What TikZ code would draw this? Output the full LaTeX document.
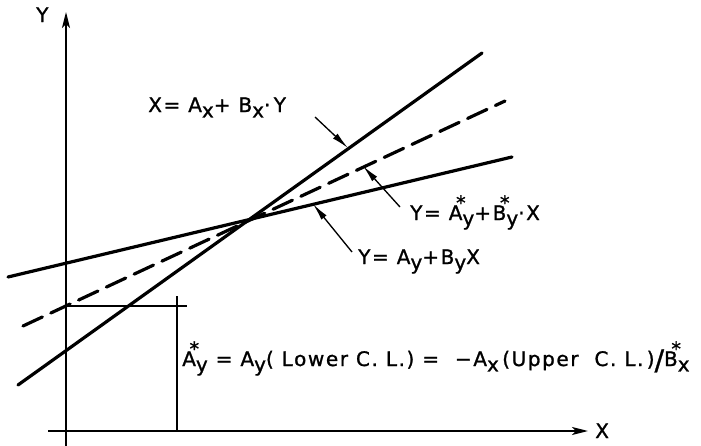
\documentclass[tikz,border=0pt]{standalone}
\usepackage{fontspec}
\usepackage{graphicx}
\newfontfamily\lettering[LetterSpace=8, FakeBold=1.2]{DejaVu Sans}
\usetikzlibrary{arrows.meta}

% lowered index and starred symbol, as in the hand lettering
\newcommand{\lo}[1]{\raisebox{-0.5ex}{#1}}
\newcommand{\starred}[2]{#1\rlap{\kern-0.32em\raisebox{0.95ex}{\Large *}}\lo{#2}}

\begin{document}
\begin{tikzpicture}[
      x=0.75pt, y=-0.75pt,
      font=\lettering\fontsize{15}{17}\selectfont,
      axis/.style={line width=1.2pt, -{Stealth[length=12pt, width=6pt, inset=3pt]}},
      fitline/.style={line width=2.4pt, line cap=round},
      dashline/.style={fitline, dash pattern=on 16pt off 7pt},
      guide/.style={line width=1pt},
      leader/.style={line width=1pt, -{Latex[length=13pt, width=5pt]}},
      lbl/.style={inner sep=0pt, anchor=base west},
    ]
    \useasboundingbox (0,0) rectangle (701,446);

    % --- axes ---------------------------------------------------------------
    \coordinate (ybot)   at (66,446);
    \coordinate (ytop)   at (66,12);
    \coordinate (xleft)  at (48,431);
    \coordinate (xright) at (588,431);
    \draw[axis] (ybot) -- (ytop);
    \draw[axis] (xleft) -- (xright);
    \node[lbl] (ylab) at (36,22)  {Y};
    \node[lbl] (xlab) at (595,438) {X};

    % --- the three fitted lines, all through one point ----------------------
    \coordinate (xyA) at (18,385);  \coordinate (xyB) at (482,53);
    \coordinate (mdA) at (23,326);  \coordinate (mdB) at (505,101);
    \coordinate (yxA) at (8,277);   \coordinate (yxB) at (512,157);
    \draw[fitline]  (xyA) -- (xyB);
    \draw[dashline] (mdA) -- (mdB);
    \draw[fitline]  (yxA) -- (yxB);

    % --- intercept read-off -------------------------------------------------
    \coordinate (hA) at (66,306);   \coordinate (hB) at (187,306);
    \coordinate (vA) at (177,296);  \coordinate (vB) at (177,431);
    \draw[guide] (hA) -- (hB);
    \draw[guide] (vA) -- (vB);

    % --- labels and their leaders -------------------------------------------
    \node[lbl] (eqxy) at (148,112) {X= A\lo{x}+\ B\lo{x}·\,Y};
    \node[lbl] (eqmd) at (410,220) {Y= \starred{A}{y}+\starred{B}{y}·X};
    \node[lbl] (eqyx) at (358,264) {Y= A\lo{y}+B\lo{y}X};
    \node[lbl] (eqint) at (182,366)
      {\starred{A}{y} = A\lo{y}( Lower C.\ L.) =\ \ −A\lo{x}\,(Upper\ \ C.\ L.\,)\raisebox{-0.35ex}{\scalebox{1.4}{/}}\starred{B}{x}};

    \coordinate (t1) at (315,117);  \coordinate (h1) at (348,148);
    \coordinate (t2) at (400,207);  \coordinate (h2) at (363,166);
    \coordinate (t3) at (352,252);  \coordinate (h3) at (313,204);
    \draw[leader] (t1) -- (h1);
    \draw[leader] (t2) -- (h2);
    \draw[leader] (t3) -- (h3);
  \end{tikzpicture}
\end{document}
